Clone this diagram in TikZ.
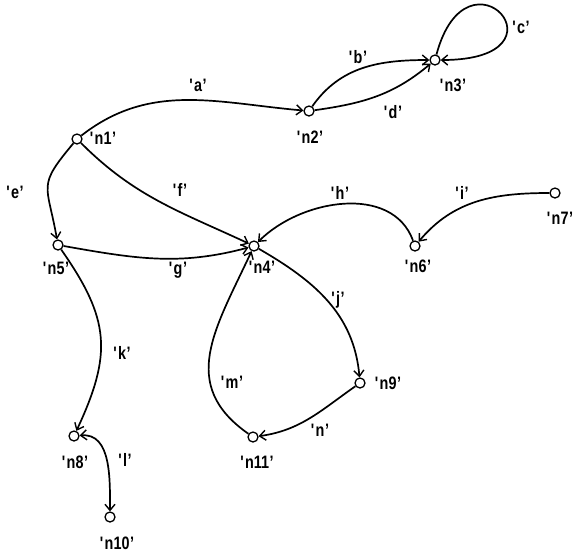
\documentclass[tikz,border=0pt]{standalone}
\usepackage{fontspec}
\setmainfont{Liberation Sans}[FakeStretch=0.8]
\usetikzlibrary{arrows.meta}
\newcommand{\ql}[1]{\textquotesingle\kern0.5pt#1\kern0.5pt’}
\begin{document}
\begin{tikzpicture}[x=1pt,y=1pt,
  vert/.style={circle,draw,fill=white,inner sep=0pt,minimum size=10pt,line width=1.3pt},
  lab/.style={inner sep=1pt,font=\fontsize{18}{18}\selectfont\bfseries},
  edge/.style={line width=1.7pt,-{Straight Barb[length=6pt,width=10pt,line width=1.4pt]}},
  both/.style={line width=1.7pt,{Straight Barb[length=6pt,width=10pt,line width=1.4pt]}-{Straight Barb[length=6pt,width=10pt,line width=1.4pt]}}]
\useasboundingbox (0,0) rectangle (574,-558);
% vertices
\node[vert] (n1) at (77,-139) {};
\node[vert] (n2) at (309,-111) {};
\node[vert] (n3) at (435,-60) {};
\node[vert] (n4) at (254,-246) {};
\node[vert] (n5) at (58,-245) {};
\node[vert] (n6) at (415,-246) {};
\node[vert] (n7) at (555,-193) {};
\node[vert] (n8) at (74,-436) {};
\node[vert] (n9) at (360,-383) {};
\node[vert] (n10) at (110,-517) {};
\node[vert] (n11) at (253,-437) {};
% edges
\draw[edge] (n1) to[out=38,in=175] (n2);
\draw[edge] (n2) to[out=55,in=180] (n3);
\draw[edge] (n2) to[out=8,in=220] (n3);
\draw[edge] (n3) to[out=75,in=0,out distance=120pt,in distance=135pt] (n3);
\draw[edge] (n1) to[out=230,in=100,looseness=1.5] (n5);
\draw[edge] (n1) to[out=-45,in=155] (n4);
\draw[edge] (n5) to[out=-10,in=195] (n4);
\draw[edge] (n6) to[out=110,in=45] (n4);
\draw[edge] (n7) to[out=180,in=50] (n6);
\draw[edge] (n4) to[out=-30,in=95] (n9);
\draw[edge] (n5) to[out=-55,in=65,looseness=1.2] (n8);
\draw[both] (n8) to[out=5,in=90] (n10);
\draw[edge] (n11) to[out=145,in=245,looseness=1.2] (n4);
\draw[edge] (n9) to[out=215,in=8] (n11);
% vertex labels
\node[lab] (ln1) at (103,-138) {\ql{n1}};
\node[lab] (ln2) at (310,-137) {\ql{n2}};
\node[lab] (ln3) at (453,-85) {\ql{n3}};
\node[lab] (ln4) at (262,-267) {\ql{n4}};
\node[lab] (ln5) at (56,-268) {\ql{n5}};
\node[lab] (ln6) at (418,-266) {\ql{n6}};
\node[lab] (ln7) at (560,-218) {\ql{n7}};
\node[lab] (ln8) at (75,-462) {\ql{n8}};
\node[lab] (ln9) at (388,-383) {\ql{n9}};
\node[lab] (ln10) at (117,-543) {\ql{n10}};
\node[lab] (ln11) at (257,-462) {\ql{n11}};
% edge labels
\node[lab] (la) at (198,-85) {\ql{a}};
\node[lab] (lb) at (358,-57) {\ql{b}};
\node[lab] (lc) at (521,-27) {\ql{c}};
\node[lab] (ld) at (393,-112) {\ql{d}};
\node[lab] (le) at (15,-192) {\ql{e}};
\node[lab] (lf) at (180,-190) {\ql{f}};
\node[lab] (lg) at (178,-270) {\ql{g}};
\node[lab] (lh) at (340,-193) {\ql{h}};
\node[lab] (li) at (462,-193) {\ql{i}};
\node[lab] (lj) at (338,-300) {\ql{j}};
\node[lab] (lk) at (122,-353) {\ql{k}};
\node[lab] (ll) at (125,-460) {\ql{l}};
\node[lab] (lm) at (232,-382) {\ql{m}};
\node[lab] (ln) at (320,-430) {\ql{n}};
\end{tikzpicture}
\end{document}
